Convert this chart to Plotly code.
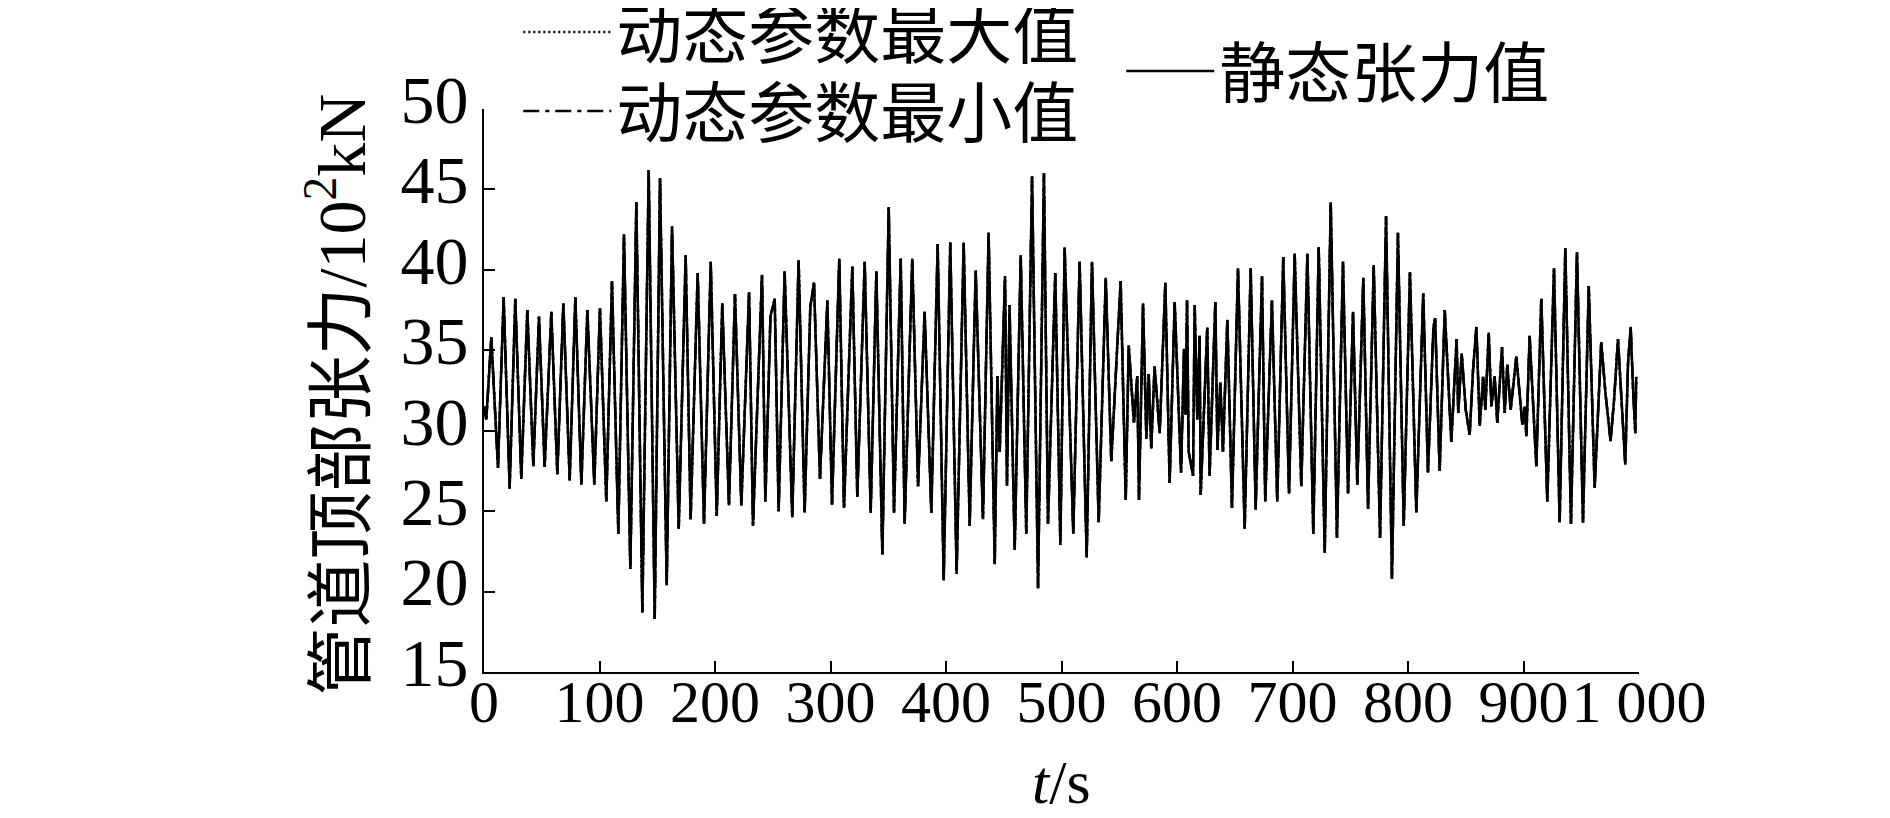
import plotly.graph_objects as go

# time (s) and top tension (10^2 kN) (peaks/troughs)
time_s = [
    0, 2.0, 6.3, 12.1, 17.0, 22.2, 27.1, 32.3, 37.5, 42.7, 47.6, 52.5, 58.3, 63.5, 68.7, 74.2,
    79.1, 84.3, 89.5, 95.5, 100.4, 105.9, 110.8, 116.3, 121.2, 126.7, 131.9, 137.1, 142.6, 147.8,
    152.4, 158.2, 162.8, 168.6, 174.6, 178.9, 185.0, 190.5, 196.3, 201.5, 206.3, 212.1, 217.3,
    222.8, 229.5, 232.9, 240.7, 243.6, 248.0, 251.7, 255.1, 260.3, 266.9, 272.4, 277.6, 282.5,
    285.7, 290.9, 297.3, 301.3, 307.6, 311.7, 318.9, 323.2, 329.6, 334.8, 339.7, 344.9, 350.4,
    355.0, 360.8, 364.2, 370.8, 375.8, 381.5, 387.3, 392.8, 398.0, 403.7, 409.2, 415.3, 420.5,
    425.7, 432.0, 436.9, 442.2, 444.5, 446.5, 451.1, 452.8, 455.0, 459.5, 464.7, 469.5, 474.5,
    479.7, 484.8, 488.3, 494.6, 499.0, 502.7, 510.2, 515.7, 521.8, 526.4, 532.2, 538.3, 543.1,
    551.2, 555.6, 558.2, 562.7, 565.6, 567.1, 570.6, 573.5, 575.5, 577.7, 580.6, 585.0, 589.9,
    593.6, 598.0, 603.5, 606.1, 607.4, 608.7, 610.1, 613.9, 615.3, 617.6, 619.6, 620.5, 626.2,
    628.2, 633.2, 635.0, 637.5, 639.8, 643.6, 647.6, 652.8, 658.6, 663.8, 668.1, 673.6, 676.4,
    682.2, 686.8, 692.0, 697.0, 701.9, 707.6, 712.9, 718.0, 722.7, 727.9, 733.1, 738.5, 743.7,
    748.1, 752.4, 756.1, 761.3, 765.4, 770.3, 775.8, 781.0, 786.1, 791.3, 796.3, 801.7, 807.2,
    813.2, 817.3, 822.0, 823.5, 827.4, 831.8, 837.5, 842.1, 843.5, 846.5, 850.0, 853.4, 856.3,
    859.2, 862.1, 865.0, 867.0, 869.9, 872.2, 875.0, 877.3, 881.4, 883.7, 886.0, 888.9, 893.8,
    899.0, 901.0, 902.5, 905.3, 911.1, 915.4, 920.6, 926.4, 931.3, 936.2, 941.1, 946.3, 951.5,
    956.5, 961.6, 967.3, 971.0, 975.4, 978.5, 981.8, 985.0, 988.1, 990.5, 992.8, 994.8, 996.8,
    997.6,
]
tension = [
    31.5, 30.7, 35.8, 27.7, 38.3, 26.4, 38.2, 27.0, 37.5, 27.8, 37.1, 27.75, 37.4, 27.3, 37.9, 26.9,
    38.3, 26.65, 37.5, 26.65, 37.6, 25.6, 39.3, 23.6, 42.2, 21.4, 44.2, 18.7, 46.2, 18.3,
    45.7, 20.4, 42.7, 23.9, 40.9, 24.5, 39.8, 24.2, 40.5, 24.7, 37.9, 25.35, 38.5,
    25.35, 38.6, 24.1, 39.7, 25.6, 37.1, 38.2, 25.0, 39.9, 24.6, 40.6, 24.9, 37.7,
    39.2, 27.0, 38.1, 25.4, 40.7, 25.2, 40.2, 25.9, 40.5, 24.9, 39.9, 22.3, 43.9,
    24.9, 40.7, 24.2, 40.7, 26.55, 37.4, 24.9, 41.6, 20.7, 41.7, 21.1, 41.7, 24.1,
    39.95, 24.5, 42.3, 21.7, 33.4, 28.7, 39.6, 26.6, 37.8, 22.6, 40.9, 23.6, 45.8,
    20.2, 46.0, 24.2, 39.8, 22.9, 41.4, 23.6, 40.5, 22.1, 40.5, 24.3, 39.5, 28.1,
    39.3, 25.7, 35.3, 30.5, 33.4, 25.7, 37.9, 29.5, 33.5, 28.9, 34.0, 29.85, 39.2,
    26.75, 38.0, 27.4, 35.1, 31.0, 38.1, 28.7, 27.2, 37.8, 30.7, 35.9, 26.0, 36.4,
    27.2, 38.0, 28.8, 33.0, 28.7, 36.9, 25.2, 40.1, 23.9, 40.1, 25.1, 39.6, 25.6,
    38.1, 25.6, 40.8, 26.1, 41.0, 26.55, 41.0, 23.6, 41.4, 22.4, 44.2, 23.35, 40.5,
    26.1, 37.4, 26.65, 39.5, 25.15, 40.3, 23.35, 43.35, 20.8, 42.3, 24.1, 39.85, 24.9,
    38.55, 27.4, 36.4, 37.0, 27.5, 37.5, 29.3, 35.7, 31.1, 34.8, 31.3, 29.75, 33.75,
    36.45, 30.3, 33.35, 31.3, 36.1, 31.5, 33.4, 30.5, 35.2, 31.1, 34.1, 31.3, 34.6,
    30.4, 31.5, 29.65, 35.9, 27.8, 38.2, 25.6, 40.1, 24.3, 41.35, 24.2, 41.1, 24.3,
    39.0, 26.45, 35.5, 32.3, 29.35, 32.0, 35.7, 31.8, 27.9, 34.2, 36.45, 32.7, 29.85,
    33.35,
]

x_ticks = [0, 100, 200, 300, 400, 500, 600, 700, 800, 900, 1000]
x_ticktext = ["0", "100", "200", "300", "400", "500", "600", "700", "800", "900", "1 000"]
y_ticks = [15, 20, 25, 30, 35, 40, 45, 50]

series_names = ["动态参数最大值", "动态参数最小值", "静态张力值"]
x_title = "<i>t</i>/s"
y_title = "管道顶部张力/10<sup>2</sup>kN"

FONT = "Liberation Serif, Noto Sans CJK SC, serif"

fig = go.Figure()

fig.add_trace(go.Scatter(x=time_s, y=tension, mode="lines", name=series_names[0],
                         line=dict(color="black", width=2.5, dash="2px,3px"), legend="legend"))
fig.add_trace(go.Scatter(x=time_s, y=tension, mode="lines", name=series_names[1],
                         line=dict(color="black", width=2.5, dash="16px,6px,4px,6px"), legend="legend2"))
fig.add_trace(go.Scatter(x=time_s, y=tension, mode="lines", name=series_names[2],
                         line=dict(color="black", width=2.5), legend="legend3"))

axis_style = dict(showline=True, linecolor="black", linewidth=2, ticks="inside", ticklen=11,
                  tickwidth=2, tickcolor="black", showgrid=False, zeroline=False, mirror=False,
                  automargin=False)

legend_style = dict(xref="container", yref="container", xanchor="left", yanchor="middle",
                    bgcolor="rgba(0,0,0,0)", borderwidth=0, itemwidth=88,
                    font=dict(family=FONT, size=66, color="black"))

fig.update_layout(
    width=1890, height=818,
    margin=dict(l=476, r=259, t=101, b=154, autoexpand=False),
    paper_bgcolor="white", plot_bgcolor="white",
    font=dict(family=FONT, color="black", size=60),
    xaxis=dict(range=[0, 1000], tickvals=x_ticks, ticktext=x_ticktext,
               tickfont=dict(family=FONT, size=60, color="black"), ticklabelstandoff=-24,
               **axis_style),
    yaxis=dict(range=[15, 50], tickvals=y_ticks,
               tickfont=dict(family=FONT, size=68, color="black"), ticklabelshift=-10,
               **axis_style),
    legend=dict(x=0.27, y=1 - 24 / 818, **legend_style),
    legend2=dict(x=0.27, y=1 - 103 / 818, **legend_style),
    legend3=dict(x=0.589, y=1 - 63 / 818, **legend_style),
    showlegend=True,
)

# axis titles as annotations so they sit where the reference has them
fig.add_annotation(text=x_title, xref="paper", yref="paper", x=0.5, y=0, yshift=-110,
                   xanchor="center", yanchor="middle", showarrow=False,
                   font=dict(family=FONT, size=62, color="black"))
fig.add_annotation(text=y_title, xref="paper", yref="paper", x=0, y=0.5, xshift=-147, yshift=-4,
                   xanchor="center", yanchor="middle", textangle=-90, showarrow=False,
                   font=dict(family=FONT, size=68, color="black"))

fig.write_html("out.html")
